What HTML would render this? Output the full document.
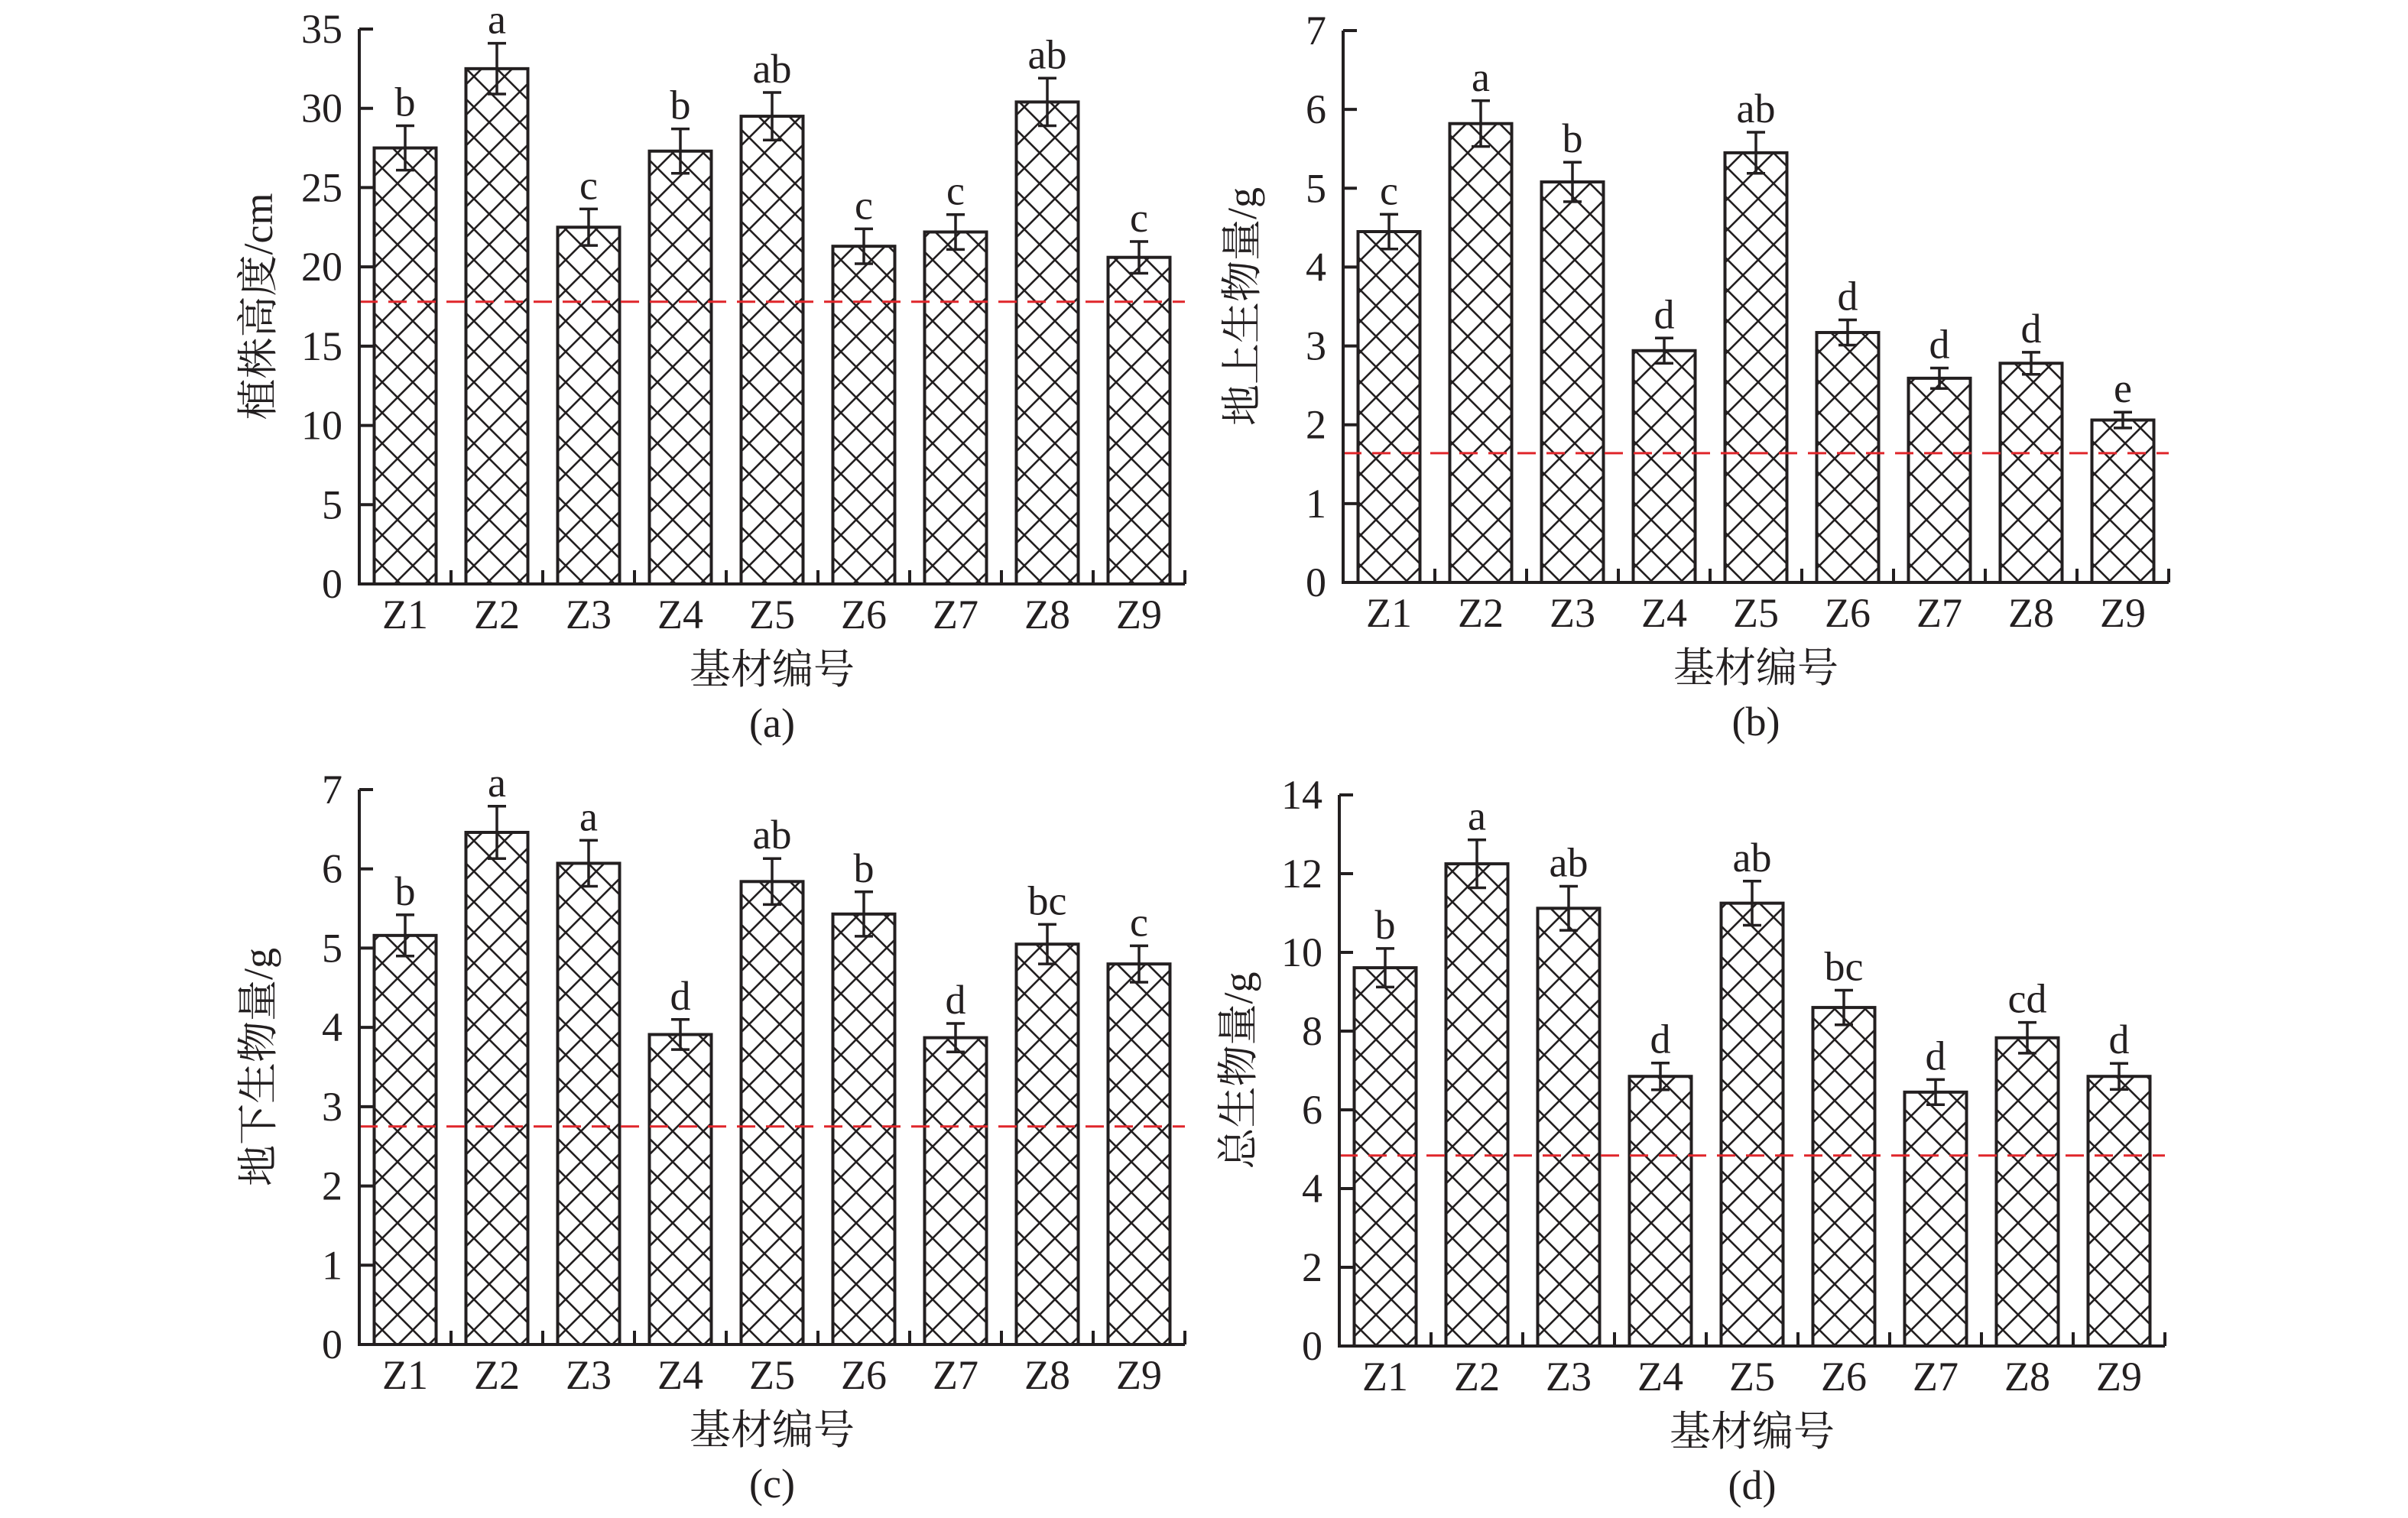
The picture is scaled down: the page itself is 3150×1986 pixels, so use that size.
<!DOCTYPE html>
<html><head><meta charset="utf-8">
<style>
html,body{margin:0;padding:0;background:#fff;}
svg{display:block;}
text{font-family:"Liberation Serif","Noto Serif CJK SC","Noto Sans CJK SC",serif;fill:#231f20;}
</style></head>
<body>
<svg id="chart" width="3150" height="1986" viewBox="0 0 3150 1986" xmlns="http://www.w3.org/2000/svg">
<defs>
<pattern id="hatch" patternUnits="userSpaceOnUse" width="40" height="40">
<path d="M0,0 L40,40 M40,0 L0,40" stroke="#231f20" stroke-width="2.6" fill="none"/>
</pattern>
</defs>
</svg>
<script>
const categories = ["Z1","Z2","Z3","Z4","Z5","Z6","Z7","Z8","Z9"];
const heightValues = [27.5,32.5,22.5,27.3,29.5,21.3,22.2,30.4,20.6];
const heightErrors = [1.4,1.6,1.15,1.4,1.5,1.1,1.1,1.5,1.0];
const heightLetters = ["b","a","c","b","ab","c","c","ab","c"];
const heightControl = 17.8;
const aboveValues = [4.45,5.82,5.08,2.94,5.45,3.17,2.59,2.78,2.06];
const aboveErrors = [0.22,0.29,0.25,0.16,0.26,0.16,0.13,0.14,0.1];
const aboveLetters = ["c","a","b","d","ab","d","d","d","e"];
const aboveControl = 1.64;
const belowValues = [5.16,6.46,6.07,3.91,5.84,5.43,3.87,5.05,4.8];
const belowErrors = [0.26,0.33,0.29,0.19,0.29,0.28,0.18,0.25,0.23];
const belowLetters = ["b","a","a","d","ab","b","d","bc","c"];
const belowControl = 2.75;
const totalValues = [9.61,12.25,11.12,6.85,11.25,8.6,6.45,7.83,6.85];
const totalErrors = [0.49,0.61,0.56,0.34,0.56,0.44,0.32,0.39,0.33];
const totalLetters = ["b","a","ab","d","ab","bc","d","cd","d"];
const totalControl = 4.84;
const ticksA = [0,5,10,15,20,25,30,35];
const ticksB = [0,1,2,3,4,5,6,7];
const ticksC = [0,1,2,3,4,5,6,7];
const ticksD = [0,2,4,6,8,10,12,14];

const NS = "http://www.w3.org/2000/svg";
const svg = document.getElementById("chart");
function mk(tag, attrs, parent){
  const e = document.createElementNS(NS, tag);
  for (const k in attrs) e.setAttribute(k, attrs[k]);
  (parent||svg).appendChild(e);
  return e;
}

function panel(cfg){
  const g = mk("g", {});
  
  
  const band = 120, barW = 81;
  const x0 = cfg.x0, xEnd = x0 + band*categories.length;
  const maxV = cfg.ticks[cfg.ticks.length-1];
  const yScale = v => cfg.zero - (cfg.zero - cfg.top) * v / maxV;
  const xCenter = i => x0 + band*i + band/2;

  categories.forEach((c,i)=>{
    const v = cfg.values[i], e = cfg.errors[i];
    const yTop = yScale(v);
    const r = mk("rect", {x: xCenter(i)-barW/2, y: yTop, width: barW, height: cfg.zero - yTop, fill:"url(#hatch)", stroke:"#231f20", "stroke-width":4}, g);
    
    
    const eg = mk("g", {stroke:"#231f20","stroke-width":3.5}, g);
    
    
    const yh = yScale(v+e), yl = yScale(v-e);
    mk("line",{x1:xCenter(i),x2:xCenter(i),y1:yh,y2:yl},eg);
    mk("line",{x1:xCenter(i)-12,x2:xCenter(i)+12,y1:yh,y2:yh},eg);
    mk("line",{x1:xCenter(i)-12,x2:xCenter(i)+12,y1:yl,y2:yl},eg);
    const t = mk("text",{x:xCenter(i), y: yh-13, "text-anchor":"middle","font-size":54}, g);
    t.textContent = cfg.letters[i];
    
    
    const xl = mk("text",{x:xCenter(i), y: cfg.zero+58, "text-anchor":"middle","font-size":54}, g);
    xl.textContent = c;
    
    
  });

  const rl = mk("line",{x1:x0, x2:xEnd, y1:yScale(cfg.control), y2:yScale(cfg.control), stroke:"#e0262b","stroke-width":3,"stroke-dasharray":"24 14"}, g);
  
  

  const ax = mk("g",{stroke:"#231f20","stroke-width":4, fill:"none"}, g);
  
  
  mk("path",{d:`M${x0},${cfg.top} V${cfg.zero} H${xEnd}`},ax);
  for (let i=1;i<=categories.length;i++){
    mk("line",{x1:x0+band*i,x2:x0+band*i,y1:cfg.zero,y2:cfg.zero-18},ax);
  }
  cfg.ticks.forEach(tv=>{
    const y = yScale(tv);
    mk("line",{x1:x0,x2:x0+18,y1:y,y2:y},ax);
    const tl = mk("text",{x:x0-22, y:y+18, "text-anchor":"end","font-size":54}, g);
    tl.textContent = tv;
    
    
  });

  const yt = mk("text",{x:0,y:0,"text-anchor":"middle","font-size":54, transform:`translate(${x0-114},${(cfg.top+cfg.zero)/2}) rotate(-90)`}, g);
  yt.textContent = cfg.ytitle;
  
  
  const xt = mk("text",{x:(x0+xEnd)/2, y:cfg.zero+130,"text-anchor":"middle","font-size":54}, g);
  xt.textContent = "基材编号";
  
  
  const pl = mk("text",{x:(x0+xEnd)/2, y:cfg.zero+200,"text-anchor":"middle","font-size":54}, g);
  pl.textContent = cfg.label;
  
  
}

panel({name:"panel-a-plant-height", x0:470, top:38, zero:764, ticks:ticksA, values:heightValues, errors:heightErrors, letters:heightLetters, control:heightControl, ytitle:"植株高度/cm", label:"(a)"});
panel({name:"panel-b-aboveground-biomass", x0:1757, top:40, zero:762, ticks:ticksB, values:aboveValues, errors:aboveErrors, letters:aboveLetters, control:aboveControl, ytitle:"地上生物量/g", label:"(b)"});
panel({name:"panel-c-belowground-biomass", x0:470, top:1033, zero:1759, ticks:ticksC, values:belowValues, errors:belowErrors, letters:belowLetters, control:belowControl, ytitle:"地下生物量/g", label:"(c)"});
panel({name:"panel-d-total-biomass", x0:1752, top:1040, zero:1761, ticks:ticksD, values:totalValues, errors:totalErrors, letters:totalLetters, control:totalControl, ytitle:"总生物量/g", label:"(d)"});
</script>
</body></html>
